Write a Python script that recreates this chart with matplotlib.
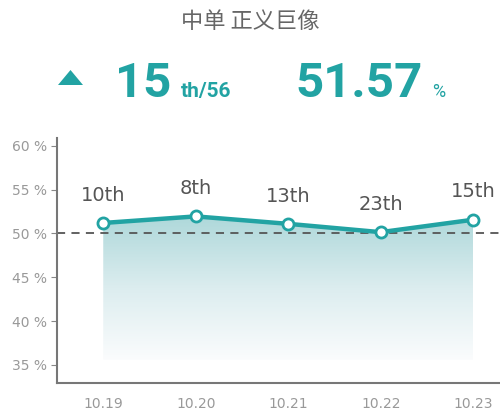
import matplotlib
matplotlib.use("Agg")
import matplotlib.pyplot as plt
from matplotlib import font_manager
from matplotlib.patches import Polygon
import numpy as np

plt.rcParams['font.family'] = ['Noto Sans CJK SC', 'DejaVu Sans']

# data
patches = ["10.19", "10.20", "10.21", "10.22", "10.23"]
win_rate = [51.2, 51.95, 51.1, 50.15, 51.57]
rank_labels = ["10th", "8th", "13th", "23th", "15th"]
y_ticks = [35, 40, 45, 50, 55, 60]

title = "中单 正义巨像"
rank_now = "15"
rank_total = "th/56"
rate_now = "51.57"

teal = "#22a3a3"

# narrow bold font for the big numbers, if there is one
names = set(f.name for f in font_manager.fontManager.ttflist)
if "Liberation Sans Narrow" in names:
    big_font, big_size, small_size = "Liberation Sans Narrow", 40, 16
else:
    big_font, big_size, small_size = "Roboto", 35.5, 15

fig = plt.figure(figsize=(5, 4.16), dpi=100)
fig.patch.set_facecolor("white")

# header
fig.text(0.5, 1 - 21 / 416, title, ha="center", va="center", fontsize=16, color="#666666")
tri = Polygon([[58 / 500, 1 - 85 / 416], [83 / 500, 1 - 85 / 416], [70.5 / 500, 1 - 70 / 416]],
              closed=True, transform=fig.transFigure, color=teal, lw=0)
fig.patches.append(tri)
fig.text(115 / 500, 1 - 97 / 416, rank_now, ha="left", va="baseline", fontsize=big_size,
         color=teal, family=[big_font], weight="bold")
fig.text(181 / 500, 1 - 97 / 416, rank_total, ha="left", va="baseline", fontsize=small_size,
         color=teal, family=[big_font], weight="bold")
fig.text(295 / 500, 1 - 97 / 416, rate_now, ha="left", va="baseline", fontsize=big_size,
         color=teal, family=[big_font], weight="bold")
fig.text(432 / 500, 1 - 97 / 416, "%", ha="left", va="baseline", fontsize=13,
         color=teal, family=[big_font])

ax = fig.add_axes([57 / 500, 33 / 416, 443 / 500, 245 / 416])
x = np.arange(len(patches))

ax.set_xlim(-0.5, 4.29)
ax.set_ylim(32.93, 60.9)

# gradient area under the line
fill_bottom = 35.6
poly = ax.fill_between(x, win_rate, fill_bottom, color="none", lw=0)
grad = np.linspace(0, 1, 256).reshape(-1, 1)
cmap = matplotlib.colors.LinearSegmentedColormap.from_list(
    "g", ["#fbfcfd", "#dcedef", "#aed8da"])
img = ax.imshow(grad, cmap=cmap, aspect="auto", origin="lower",
                extent=[x[0], x[-1], fill_bottom, max(win_rate)], zorder=1)
img.set_clip_path(poly.get_paths()[0], transform=ax.transData)

ax.axhline(50, color="#555555", lw=1.3, ls=(0, (4.5, 3.5)), zorder=2)
ax.plot(x, win_rate, color=teal, lw=3.2, zorder=3, marker="o", ms=8,
        mfc="white", mec=teal, mew=2)

for xi, yi, lab in zip(x, win_rate, rank_labels):
    ax.annotate(lab, (xi, yi), xytext=(0, 20), textcoords="offset points",
                ha="center", va="center", fontsize=14, color="#555555",
                family=["DejaVu Sans"])

ax.set_xticks(x)
ax.set_xticklabels(patches, fontsize=10, color="#999999", family=["DejaVu Sans"])
ax.set_yticks(y_ticks)
ax.set_yticklabels([f"{v} %" for v in y_ticks], fontsize=10, color="#999999",
                   family=["DejaVu Sans"])
ax.tick_params(axis="x", length=0, pad=10)
ax.tick_params(axis="y", length=4, color="#888888", pad=3)
for s in ["top", "right"]:
    ax.spines[s].set_visible(False)
for s in ["left", "bottom"]:
    ax.spines[s].set_color("#777777")
    ax.spines[s].set_linewidth(1.5)
ax.set_facecolor("white")

fig.savefig("out.png", dpi=100)
